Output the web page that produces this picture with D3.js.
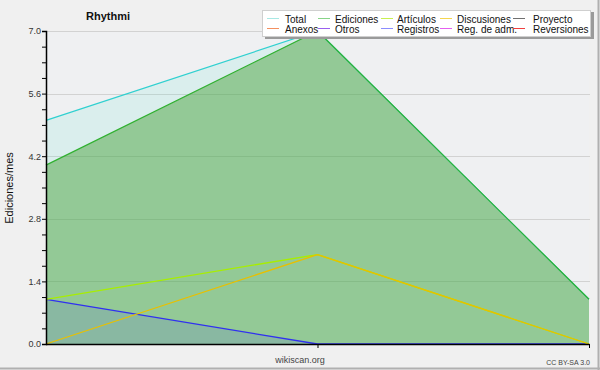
<!DOCTYPE html>
<html><head><meta charset="utf-8">
<script src="https://cdn.jsdelivr.net/npm/d3@7"></script>
<style>body{margin:0;background:#f0f0f0;}svg{display:block;}</style>
</head><body>
<script>
const periods = [0, 1, 2];
const total = [5.0, 7.0, 1.0];
const ediciones = [4.0, 7.0, 1.0];
const articulos = [1.0, 2.0, 0.0];
const discusiones = [0.0, 2.0, 0.0];
const registros = [1.0, 0.0, 0.0];
const yTicks = [0.0, 1.4, 2.8, 4.2, 5.6, 7.0];
const legendNames = ["Total","Ediciones","Artículos","Discusiones","Proyecto","Anexos","Otros","Registros","Reg. de adm.","Reversiones"];
const legendColors = ["#a8e8e4","#88d488","#c8f050","#f4d650","#707070","#f49060","#9a60f0","#8c8cff","#e460f0","#f04040"];

const W=600,H=370;
const svg=d3.select("body").append("svg").attr("width",W).attr("height",H);
svg.append("rect").attr("width",W).attr("height",H).attr("fill","#f0f0f0");
svg.append("line").attr("x1",598.5).attr("x2",598.5).attr("y1",0).attr("y2",H).attr("stroke","#b0b0b0").attr("stroke-width",2);
svg.append("line").attr("x1",0).attr("x2",W).attr("y1",368.5).attr("y2",368.5).attr("stroke","#b0b0b0").attr("stroke-width",2);

const x=d3.scaleLinear().domain([0,2]).range([46,589]);
const y=d3.scaleLinear().domain([0,7]).range([344,31]);

svg.append("rect").attr("x",46).attr("y",31).attr("width",543).attr("height",313).attr("fill","#eff0f2");

// gridlines (under translucent fills)
svg.append("g").selectAll("line").data(yTicks.slice(1)).join("line")
  .attr("x1",46).attr("x2",590).attr("y1",d=>Math.round(y(d))+0.5).attr("y2",d=>Math.round(y(d))+0.5)
  .attr("stroke","#d2d2d2");

const area=vals=>d3.area().x((d,i)=>x(periods[i])).y0(y(0)).y1(d=>y(d))(vals);
const line=vals=>d3.line().x((d,i)=>x(periods[i])).y(d=>y(d))(vals);

svg.append("path").attr("d",area(total)).attr("fill","rgba(100,230,210,0.15)");
svg.append("path").attr("d",area(ediciones)).attr("fill","rgba(75,163,64,0.5)");
svg.append("path").attr("d",area(registros)).attr("fill","rgba(64,64,255,0.12)");

svg.append("path").attr("d",line(total)).attr("fill","none").attr("stroke","#30d0d0").attr("stroke-width",1.2);
svg.append("path").attr("d",line(registros)).attr("fill","none").attr("stroke","#3030f0").attr("stroke-width",1.3);
svg.append("path").attr("d",line(articulos)).attr("fill","none").attr("stroke","#a8ee00").attr("stroke-width",1.3);
svg.append("path").attr("d",line(discusiones)).attr("fill","none").attr("stroke","#e8c000").attr("stroke-width",1.3);
svg.append("path").attr("d",line(ediciones)).attr("fill","none").attr("stroke","#30b030").attr("stroke-width",1.2);

// y axis
const yAxis=d3.axisLeft(y).tickValues(d3.range(0,21).map(i=>+(i*0.35).toFixed(2)))
  .tickSize(4).tickFormat(d=>yTicks.some(t=>Math.abs(t-d)<1e-6)?d.toFixed(1):"");
const ga=svg.append("g").attr("transform","translate(46,0)").call(yAxis);
ga.select(".domain").attr("stroke","#000").attr("stroke-width",1.5);
ga.selectAll(".tick line").attr("stroke","#000");
ga.selectAll(".tick text").attr("font-family","Liberation Sans, Arial, sans-serif").attr("font-size",9).attr("fill","#333").attr("x",-5);
ga.selectAll(".tick").filter(d=>yTicks.some(t=>Math.abs(t-d)<1e-6)).select("line").attr("x1",1);

// x axis
const xAxis=d3.axisBottom(x).tickValues([1,2]).tickSize(4).tickFormat("");
const gx=svg.append("g").attr("transform","translate(0,344)").call(xAxis);
gx.select(".domain").attr("stroke","#000").attr("stroke-width",1.5).attr("d","M46,0.5H589.5");
gx.selectAll(".tick line").attr("stroke","#000");

// texts
svg.append("text").attr("x",108).attr("y",20).attr("text-anchor","middle")
  .attr("font-family","Liberation Sans, Arial, sans-serif").attr("font-weight","bold").attr("font-size",11).attr("fill","#111").text("Rhythmi");
svg.append("text").attr("transform","translate(13,188) rotate(-90)").attr("text-anchor","middle")
  .attr("font-family","Liberation Sans, Arial, sans-serif").attr("font-size",11).attr("fill","#111").text("Ediciones/mes");
svg.append("text").attr("x",300).attr("y",363).attr("text-anchor","middle")
  .attr("font-family","Liberation Sans, Arial, sans-serif").attr("font-size",9).attr("fill","#444").text("wikiscan.org");
svg.append("text").attr("x",590).attr("y",365).attr("text-anchor","end")
  .attr("font-family","Liberation Sans, Arial, sans-serif").attr("font-size",7).attr("fill","#444").text("CC BY-SA 3.0");

// legend
svg.append("rect").attr("x",265).attr("y",12).attr("width",329).attr("height",27).attr("fill","#9a9a9a");
svg.append("rect").attr("x",262.5).attr("y",10.5).attr("width",328).attr("height",26).attr("fill","#fff").attr("stroke","#cfcfcf");
const swX=[267,318,381,440,513], txX=[285,335,397,457,533];
const lg=svg.append("g").selectAll("g").data(legendNames).join("g");
lg.append("line").attr("x1",(d,i)=>swX[i%5]).attr("x2",(d,i)=>swX[i%5]+12)
  .attr("y1",(d,i)=>i<5?18.5:28.5).attr("y2",(d,i)=>i<5?18.5:28.5)
  .attr("stroke",(d,i)=>legendColors[i]).attr("stroke-width",1);
lg.append("text").attr("x",(d,i)=>txX[i%5]).attr("y",(d,i)=>i<5?22.5:33)
  .attr("font-family","Liberation Sans, Arial, sans-serif").attr("font-size",10).attr("fill","#111").text(d=>d);
</script>
</body></html>
